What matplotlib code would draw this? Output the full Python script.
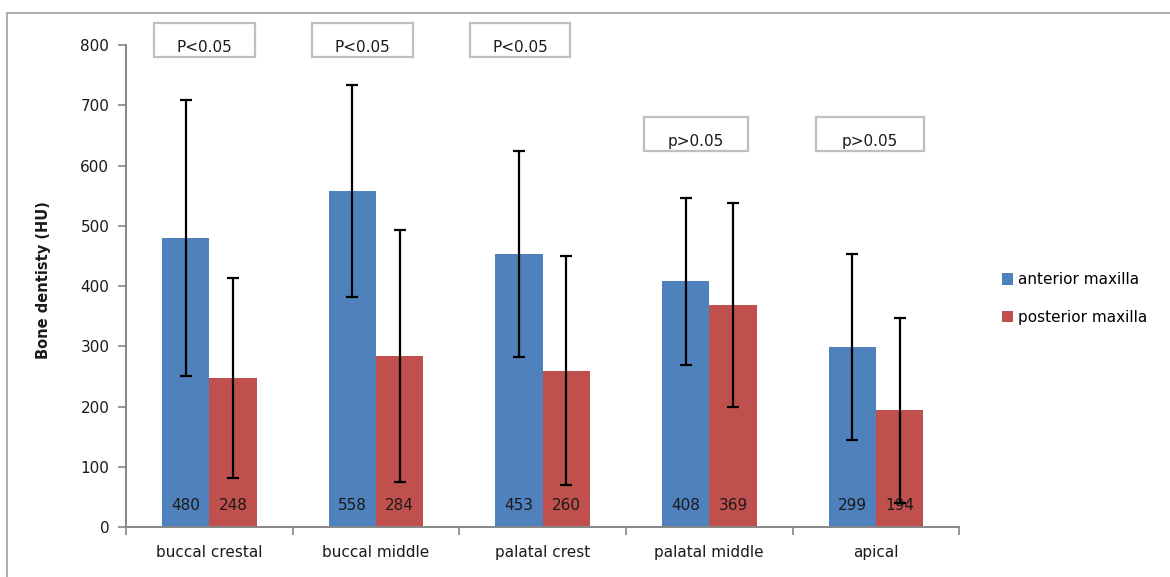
import matplotlib.pyplot as plt
from matplotlib.patches import Rectangle

plt.rcParams['font.family'] = ['DejaVu Sans']

# data
categories = ['buccal crestal', 'buccal middle', 'palatal crest',
              'palatal middle', 'apical']
anterior = [480, 558, 453, 408, 299]
posterior = [248, 284, 260, 369, 194]
anterior_sd = [229, 176, 171, 138, 154]
posterior_sd = [166, 209, 190, 169, 153]
p_labels = ['P<0.05', 'P<0.05', 'P<0.05', 'p>0.05', 'p>0.05']
series_names = ['anterior maxilla', 'posterior maxilla']

# where the p boxes sit (hand placed in the original)
p_box_shift = [-0.03, -0.081, -0.136, -0.081, -0.037]
p_box_width = [0.606, 0.606, 0.6, 0.624, 0.648]
p_box_bottom = [780, 780, 780, 624, 624]
BOX_H = 57

BLUE = '#4F81BD'
RED = '#C0504D'
GREY = '#868686'
TXT = '#1A1A1A'
FS = 11

W, H = 1170, 577
fig = plt.figure(figsize=(W / 100, H / 100), dpi=100)
ax = fig.add_axes([126 / W, 1 - 527.3 / H, (959.3 - 126) / W, (527.3 - 45) / H])

# chart area border (runs off the right and bottom edge)
fig.patches.append(Rectangle((7 / W, -0.1), 1.2, 1 - 13 / H + 0.1,
                             transform=fig.transFigure, fill=False,
                             edgecolor='#A0A0A0', linewidth=1.2))

x = list(range(len(categories)))
bw = 0.284
xa = [i - bw / 2 for i in x]
xp = [i + bw / 2 for i in x]

ax.bar(xa, anterior, bw, color=BLUE, label=series_names[0], zorder=2)
ax.bar(xp, posterior, bw, color=RED, label=series_names[1], zorder=2)

ekw = dict(fmt='none', ecolor='black', elinewidth=1.6, capsize=4.5,
           capthick=1.6, zorder=5)
ax.errorbar(xa, anterior, yerr=anterior_sd, **ekw)
ax.errorbar(xp, posterior, yerr=posterior_sd, **ekw)

for xs, vals in ((xa, anterior), (xp, posterior)):
    for xi, v in zip(xs, vals):
        ax.annotate(str(v), (xi, 0), xytext=(0, 22), textcoords='offset pixels',
                    ha='center', va='center', fontsize=FS, color=TXT,
                    zorder=4)

# p-value boxes
for i, lab in enumerate(p_labels):
    cx = i + p_box_shift[i]
    bwid = p_box_width[i]
    ax.add_patch(Rectangle((cx - bwid / 2, p_box_bottom[i]), bwid, BOX_H,
                           facecolor='white', edgecolor='#BFBFBF',
                           linewidth=1.6, clip_on=False, zorder=6))
    ax.annotate(lab, (cx, p_box_bottom[i]), xytext=(0, 5),
                textcoords='offset pixels', ha='center', va='baseline',
                fontsize=FS, color=TXT, annotation_clip=False, zorder=7)

ax.set_xlim(-0.5, len(categories) - 0.5)
ax.set_ylim(0, 800)
ax.set_yticks(range(0, 801, 100))
ax.set_xticks([i - 0.5 for i in range(len(categories) + 1)], minor=False)
ax.set_xticklabels([])
ax.set_xticks(x, minor=True)
ax.set_xticklabels(categories, minor=True)
ax.tick_params(axis='x', which='minor', length=0, pad=13, labelsize=FS,
               labelcolor=TXT)
ax.tick_params(axis='x', which='major', length=6, width=1.2, color=GREY,
               direction='out')
ax.tick_params(axis='y', length=6, width=1.2, color=GREY, direction='out',
               labelsize=FS, labelcolor=TXT, pad=6)
for s in ('top', 'right'):
    ax.spines[s].set_visible(False)
for s in ('left', 'bottom'):
    ax.spines[s].set_color(GREY)
    ax.spines[s].set_linewidth(1.4)

ax.set_ylabel('Bone dentisty (HU)', fontsize=10.5, fontweight='bold',
              color=TXT)
ax.yaxis.set_label_coords(-0.09, 0.513)

ax.legend(loc='center left', bbox_to_anchor=(988 / W, 1 - 298.5 / H),
          bbox_transform=fig.transFigure, frameon=False, fontsize=FS,
          handlelength=0.75, handleheight=0.75, handletextpad=0.3,
          labelspacing=1.45)

fig.savefig('out.png', dpi=100)
